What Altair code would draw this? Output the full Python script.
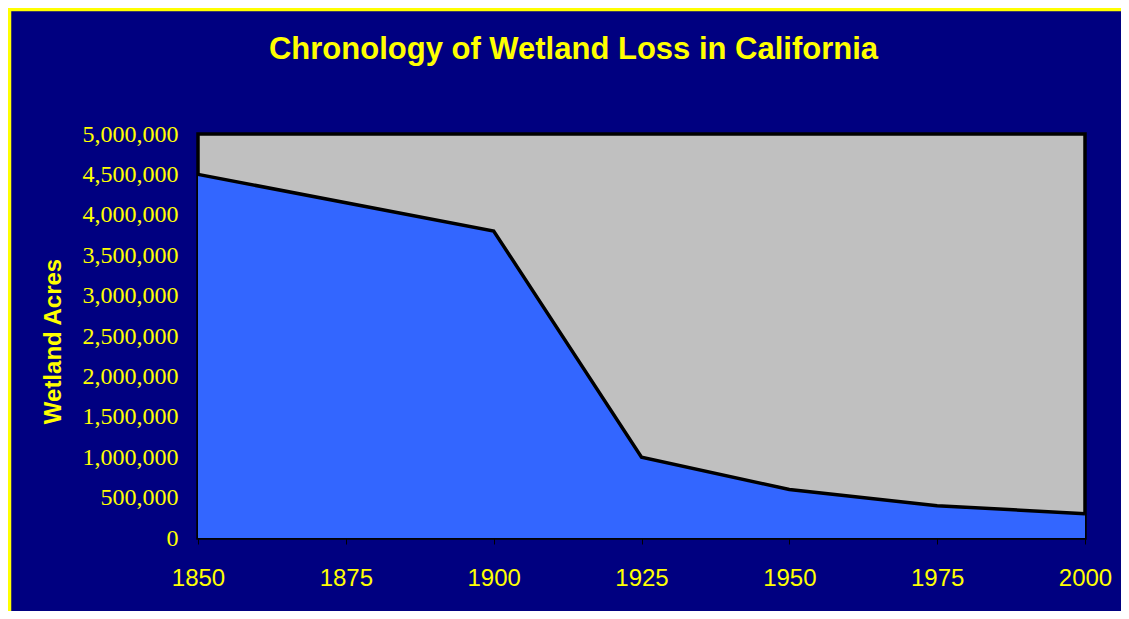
import altair as alt
import pandas as pd

years = [1850, 1900, 1925, 1950, 1975, 2000]
acres = [4500000, 3800000, 1000000, 600000, 400000, 300000]
x_ticks = [1850, 1875, 1900, 1925, 1950, 1975, 2000]
y_ticks = [0, 500000, 1000000, 1500000, 2000000, 2500000, 3000000, 3500000, 4000000, 4500000, 5000000]

df = pd.DataFrame({"year": years, "acres": acres})

NAVY = "#000080"
YELLOW = "#FFFF00"

area = alt.Chart(df).mark_area(
    color="#3366FF", opacity=1,
    line={"color": "black", "strokeWidth": 3.5, "strokeJoin": "miter"},
).encode(
    x=alt.X("year:Q", scale=alt.Scale(domain=[1850, 2000], nice=False, zero=False),
            axis=alt.Axis(values=x_ticks, format="d", title=None, grid=False, domain=False,
                          tickColor="black", tickSize=6, tickWidth=1,
                          labelColor=YELLOW, labelFont="Liberation Sans", labelFontSize=24,
                          labelPadding=22, labelFlush=False, labelOverlap=False)),
    y=alt.Y("acres:Q", scale=alt.Scale(domain=[0, 5000000], nice=False),
            axis=alt.Axis(values=y_ticks, format=",d", title="Wetland Acres", grid=False,
                          domain=False, ticks=False,
                          labelColor=YELLOW, labelFont="Liberation Serif", labelFontSize=24,
                          labelPadding=20, labelOverlap=False,
                          titleColor=YELLOW, titleFont="Liberation Sans", titleFontSize=24,
                          titleFontWeight="bold", titleX=-145, titleY=207,
                          titleAlign="center", titleBaseline="middle", titleAngle=-90)),
)

frame = alt.Chart(alt.Data(values=[{"k": 1}])).mark_rect(
    fillOpacity=0, stroke=YELLOW, strokeWidth=3.5,
).encode(
    x=alt.value(-188.5), x2=alt.value(3000),
    y=alt.value(-124.5), y2=alt.value(3000),
)

chart = alt.layer(frame, area).properties(
    width=887,
    height=404,
    autosize=alt.AutoSizeParams(type="none"),
    padding={"left": 190, "top": 126, "right": 36, "bottom": 73},
    background=NAVY,
    title=alt.TitleParams(
        "Chronology of Wetland Loss in California",
        color=YELLOW, font="Liberation Sans", fontSize=31, fontWeight="bold",
        anchor="middle", frame="group", dx=-68, offset=-58,
    ),
).configure_view(
    fill="#C0C0C0", stroke="black", strokeWidth=3.5,
)

chart.save("out.html", embed_options={"renderer": "svg", "actions": False})
